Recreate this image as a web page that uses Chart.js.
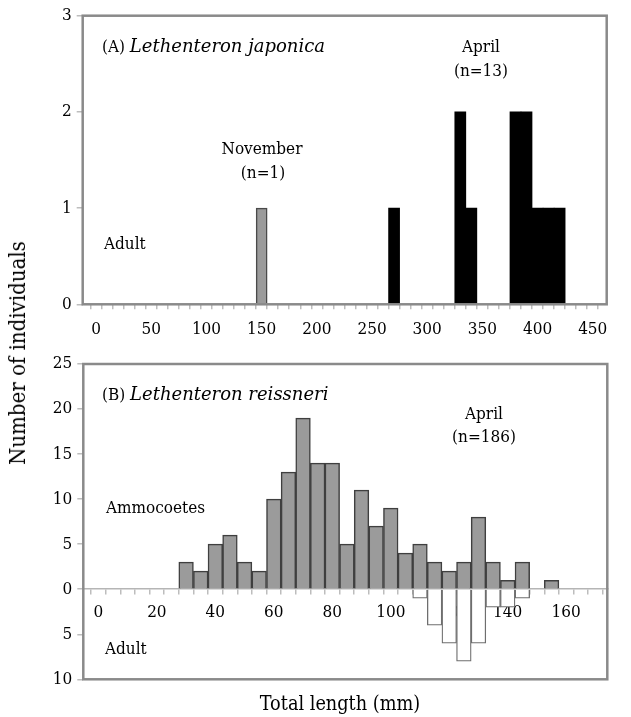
<!DOCTYPE html>
<html>
<head>
<meta charset="utf-8">
<script src="https://cdn.jsdelivr.net/npm/chart.js@4.4.0/dist/chart.umd.min.js"></script>
<style>
    body {
        margin: 0;
        background: #fff;
        width: 631px;
        height: 717px;
        position: relative;
        overflow: hidden;
        font-family: 'DejaVu Serif Condensed', 'DejaVu Serif', serif;
        color: #000;
    }
    canvas { position: absolute; left: 0; }
    #chartA { top: 0; }
    #chartB { top: 345px; }
    .lbl { position: absolute; font-size: 17px; white-space: nowrap; line-height: 1; }
    .lbl i { font-family: 'DejaVu Serif', serif; font-size: 18px; }
    .c { transform: translate(-50%, -50%); }
    .l { transform: translateY(-50%); }
    .axis-title { position: absolute; white-space: nowrap; line-height: 1; }
</style>
</head>
<body>
<canvas id="chartA" width="631" height="345"></canvas>
<canvas id="chartB" width="631" height="372"></canvas>

<div class="lbl l" style="left:102px; top:46px">(A) <i>Lethenteron japonica</i></div>
<div class="lbl c" style="left:481px; top:46px">April</div>
<div class="lbl c" style="left:481px; top:70px">(n=13)</div>
<div class="lbl c" style="left:262px; top:148px">November</div>
<div class="lbl c" style="left:263px; top:172px">(n=1)</div>
<div class="lbl l" style="left:104px; top:243px">Adult</div>

<div class="lbl l" style="left:102px; top:394px">(B) <i>Lethenteron reissneri</i></div>
<div class="lbl c" style="left:484px; top:413px">April</div>
<div class="lbl c" style="left:484px; top:436px">(n=186)</div>
<div class="lbl l" style="left:106px; top:507px">Ammocoetes</div>
<div class="lbl l" style="left:105px; top:648px">Adult</div>

<div class="axis-title" style="font-size:22px; left:18px; top:353px; transform: translate(-50%, -50%) rotate(-90deg)">Number of individuals</div>
<div class="axis-title" style="font-size:19.7px; left:340px; top:704px; transform: translate(-50%, -50%)">Total length (mm)</div>

<script>
// (A) Lethenteron japonica - adults, 10 mm classes
const lengthA_nov = [150];
const countA_nov = [1];
const lengthA_apr = [270, 330, 340, 380, 390, 400, 410, 420];
const countA_apr = [1, 2, 1, 2, 2, 1, 1, 1];
const ticksA = [0, 50, 100, 150, 200, 250, 300, 350, 400, 450];
const countTicksA = [0, 1, 2, 3];

// (B) Lethenteron reissneri - April, 5 mm classes
const lengthB_ammo = [30, 35, 40, 45, 50, 55, 60, 65, 70, 75, 80, 85, 90, 95, 100,
                      105, 110, 115, 120, 125, 130, 135, 140, 145, 155];
const countB_ammo = [3, 2, 5, 6, 3, 2, 10, 13, 19, 14, 14, 5, 11, 7, 9,
                     4, 5, 3, 2, 3, 8, 3, 1, 3, 1];
const lengthB_adult = [110, 115, 120, 125, 130, 135, 140, 145];
const countB_adult = [1, 4, 6, 8, 6, 2, 2, 1]; // drawn below zero
const ticksB = [0, 20, 40, 60, 80, 100, 120, 140, 160];
const countTicksB = [-10, -5, 0, 5, 10, 15, 20, 25];

const FONT = { family: "'DejaVu Serif Condensed', 'DejaVu Serif', serif", size: 17 };
const TICK_GREY = '#bdbdbd';

function toPoints(xs, ys, sign = 1) {
    return xs.map((x, i) => ({ x: x, y: sign * ys[i] }));
}

// minor ticks every `step`, labels only on the listed values
function minorTicks(labels, step, last) {
    return function (scale) {
        const out = [];
        for (let v = labels[0]; v <= last; v += step) out.push({ value: v });
        scale.ticks = out;
    };
}

// grey frame around the plot area
const framePlugin = {
    id: 'frame',
    afterDatasetsDraw(chart) {
        const { ctx, chartArea: a } = chart;
        ctx.save();
        ctx.strokeStyle = '#8a8a8a';
        ctx.lineWidth = 2.5;
        ctx.strokeRect(a.left, a.top, a.right - a.left, a.bottom - a.top);
        ctx.restore();
    }
};

function yAxis(min, max, values, width, absLabels) {
    return {
        type: 'linear',
        min: min,
        max: max,
        afterBuildTicks: (scale) => { scale.ticks = values.map(v => ({ value: v })); },
        afterFit: (scale) => { scale.width = width; },
        grid: { drawOnChartArea: false, drawTicks: true, tickLength: 6, tickColor: TICK_GREY, lineWidth: 1.5 },
        border: { display: false },
        ticks: {
            font: FONT,
            color: '#000',
            padding: 5,
            callback: (v) => absLabels ? Math.abs(v) : v
        }
    };
}

// Graphique A
new Chart(document.getElementById('chartA'), {
    type: 'bar',
    data: {
        datasets: [{
            label: 'November',
            data: toPoints(lengthA_nov, countA_nov),
            backgroundColor: '#9b9b9b',
            borderColor: '#4a4a4a',
            borderWidth: 1.5
        }, {
            label: 'April',
            data: toPoints(lengthA_apr, countA_apr),
            backgroundColor: '#000',
            borderWidth: 0
        }]
    },
    options: {
        responsive: false,
        animation: false,
        layout: { padding: { left: 0, top: 15.7, right: 24.3, bottom: 0 } },
        datasets: { bar: { barPercentage: 1, categoryPercentage: 1, grouped: false } },
        plugins: { legend: { display: false }, tooltip: { enabled: false } },
        scales: {
            x: {
                type: 'linear',
                position: 'bottom',
                min: -7,
                max: 457.5,
                afterBuildTicks: minorTicks(ticksA, 10, 450),
                afterFit: (scale) => { scale.height = 345 - 304.3; },
                grid: { drawOnChartArea: false, drawTicks: true, tickLength: 5, tickColor: TICK_GREY, lineWidth: 1.5 },
                border: { display: false },
                ticks: {
                    font: FONT,
                    color: '#000',
                    padding: 10,
                    autoSkip: false,
                    maxRotation: 0,
                    callback: (v) => ticksA.includes(v) ? v : ''
                }
            },
            y: yAxis(0, 3, countTicksA, 82.7, false)
        }
    },
    plugins: [framePlugin]
});

// Graphique B
new Chart(document.getElementById('chartB'), {
    type: 'bar',
    data: {
        datasets: [{
            label: 'Ammocoetes',
            data: toPoints(lengthB_ammo, countB_ammo),
            backgroundColor: '#9b9b9b',
            borderColor: '#3f3f3f',
            borderWidth: 1.5
        }, {
            label: 'Adult',
            data: toPoints(lengthB_adult, countB_adult, -1),
            backgroundColor: '#fff',
            borderColor: '#6e6e6e',
            borderWidth: 1.3
        }]
    },
    options: {
        responsive: false,
        animation: false,
        layout: { padding: { left: 0, top: 19, right: 23.7, bottom: 37.7 } },
        datasets: { bar: { barPercentage: 1, categoryPercentage: 1, grouped: false } },
        plugins: { legend: { display: false }, tooltip: { enabled: false } },
        scales: {
            x: {
                type: 'linear',
                position: { y: 0 },
                min: -2.6,
                max: 171.5,
                afterBuildTicks: minorTicks(ticksB, 5, 170),
                grid: { drawOnChartArea: false, drawTicks: true, tickLength: 5, tickColor: TICK_GREY, lineWidth: 1.5 },
                border: { display: true, color: '#b5b5b5', width: 1.5 },
                ticks: {
                    font: FONT,
                    color: '#000',
                    padding: 8,
                    autoSkip: false,
                    maxRotation: 0,
                    callback: (v) => ticksB.includes(v) ? v : ''
                }
            },
            y: yAxis(-10, 25, countTicksB, 83.3, true)
        }
    },
    plugins: [framePlugin]
});
</script>
</body>
</html>
